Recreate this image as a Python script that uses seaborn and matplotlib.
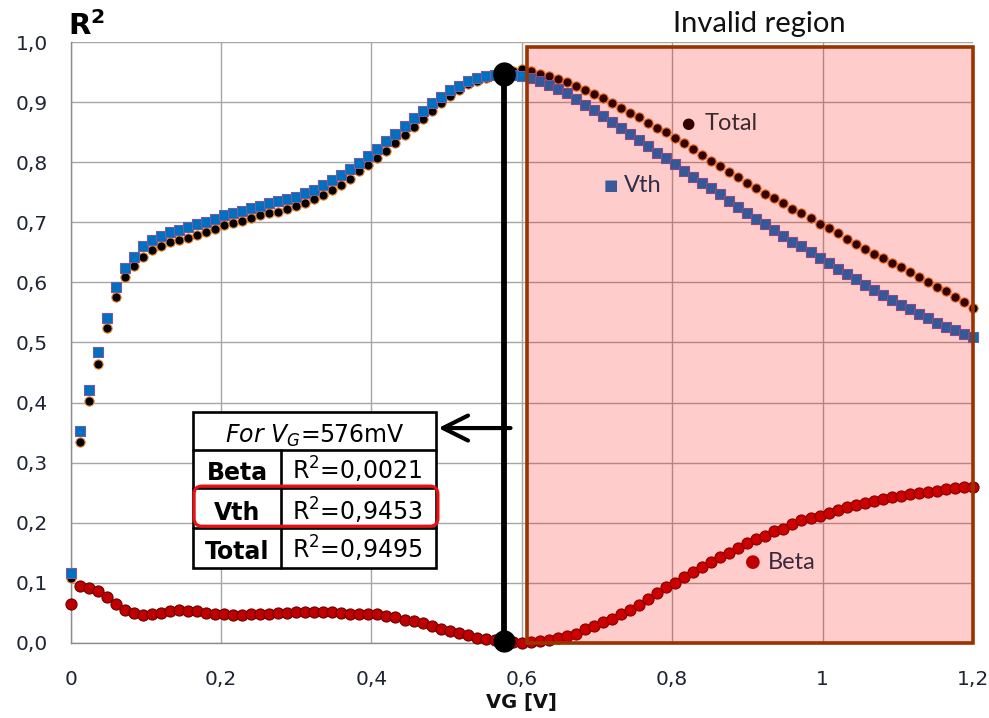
import numpy as np
import pandas as pd
import matplotlib
matplotlib.use("Agg")
import matplotlib.pyplot as plt
import seaborn as sns
from matplotlib.patches import Rectangle, FancyBboxPatch
from matplotlib.ticker import MultipleLocator, FuncFormatter

# ---------------- data ----------------
VG_STEP = 0.012          # gate-voltage step [V], 101 samples from 0 to 1.2 V
N_POINTS = 101

vth = [0.116, 0.353, 0.421, 0.485, 0.541, 0.593, 0.624, 0.643, 0.660, 0.671,
       0.677, 0.684, 0.688, 0.692, 0.697, 0.701, 0.706, 0.712, 0.715, 0.719,
       0.724, 0.728, 0.732, 0.735, 0.739, 0.743, 0.749, 0.754, 0.762, 0.771,
       0.779, 0.789, 0.799, 0.811, 0.822, 0.835, 0.847, 0.861, 0.874, 0.886,
       0.899, 0.909, 0.920, 0.928, 0.936, 0.940, 0.944, 0.946, 0.9453, 0.945,
       0.944, 0.940, 0.935, 0.929, 0.922, 0.915, 0.905, 0.896, 0.888, 0.877,
       0.868, 0.857, 0.847, 0.838, 0.827, 0.816, 0.807, 0.797, 0.786, 0.776,
       0.766, 0.757, 0.747, 0.736, 0.726, 0.716, 0.706, 0.698, 0.688, 0.678,
       0.668, 0.660, 0.650, 0.640, 0.632, 0.623, 0.614, 0.605, 0.596, 0.588,
       0.579, 0.571, 0.563, 0.555, 0.547, 0.540, 0.533, 0.526, 0.520, 0.514,
       0.509]

total = [0.107, 0.335, 0.403, 0.465, 0.524, 0.575, 0.609, 0.627, 0.643, 0.654,
         0.660, 0.667, 0.670, 0.674, 0.679, 0.684, 0.689, 0.695, 0.699, 0.703,
         0.708, 0.712, 0.715, 0.718, 0.722, 0.727, 0.732, 0.739, 0.746, 0.754,
         0.762, 0.773, 0.785, 0.796, 0.807, 0.819, 0.832, 0.845, 0.859, 0.872,
         0.886, 0.899, 0.911, 0.921, 0.930, 0.936, 0.940, 0.945, 0.9495, 0.953,
         0.955, 0.952, 0.948, 0.944, 0.939, 0.934, 0.928, 0.921, 0.914, 0.907,
         0.899, 0.891, 0.883, 0.875, 0.866, 0.858, 0.850, 0.840, 0.832, 0.822,
         0.812, 0.803, 0.794, 0.784, 0.775, 0.766, 0.758, 0.748, 0.740, 0.732,
         0.723, 0.715, 0.707, 0.698, 0.690, 0.682, 0.672, 0.664, 0.656, 0.648,
         0.640, 0.632, 0.625, 0.617, 0.609, 0.601, 0.593, 0.585, 0.576, 0.568,
         0.557]

beta = [0.065, 0.094, 0.0915, 0.086, 0.076, 0.065, 0.054, 0.050, 0.046, 0.0475,
        0.050, 0.052, 0.055, 0.053, 0.052, 0.050, 0.0486, 0.047, 0.046, 0.046,
        0.0486, 0.0486, 0.0486, 0.050, 0.050, 0.051, 0.051, 0.051, 0.051, 0.051,
        0.050, 0.0486, 0.0486, 0.0486, 0.047, 0.0447, 0.042, 0.0386, 0.036, 0.032,
        0.0275, 0.0236, 0.0197, 0.0164, 0.0125, 0.0086, 0.0058, 0.004, 0.0021, 0.001,
        0.000, 0.0014, 0.003, 0.005, 0.007, 0.011, 0.0153, 0.022, 0.0275, 0.0347,
        0.040, 0.0475, 0.055, 0.0636, 0.0736, 0.082, 0.092, 0.100, 0.1086, 0.118,
        0.126, 0.134, 0.142, 0.1486, 0.157, 0.1653, 0.172, 0.1775, 0.186, 0.190,
        0.197, 0.204, 0.207, 0.2114, 0.2164, 0.221, 0.2253, 0.229, 0.233, 0.236,
        0.239, 0.242, 0.245, 0.247, 0.250, 0.2514, 0.253, 0.2553, 0.257, 0.2586,
        0.2597]

vg = np.round(np.arange(N_POINTS) * VG_STEP, 4)

VG_SELECTED = 0.576                      # V
SEL_NAMES = ["Beta", "Vth", "Total"]
SEL_R2 = [0.0021, 0.9453, 0.9495]
INVALID_FROM = 0.607                     # V
INVALID_TOP = 0.9925

df = pd.DataFrame({"VG": vg, "Beta": beta, "Vth": vth, "Total": total})


def comma_x(v, pos=None):
    if abs(v - round(v)) < 1e-9:
        return f"{int(round(v))}"
    return f"{v:.1f}".replace(".", ",")


def comma_y(v, pos=None):
    return f"{v:.1f}".replace(".", ",")


# ---------------- figure ----------------
sns.set_theme(style="white")
plt.rcParams["font.family"] = ["DejaVu Sans"]
plt.rcParams["mathtext.fontset"] = "dejavusans"

W, H = 989, 718
fig = plt.figure(figsize=(W / 100, H / 100), dpi=100)
x0px, x1px, y0px, y1px = 70.7, 972.9, 642.7, 42.3
ax = fig.add_axes([x0px / W, 1 - y0px / H, (x1px - x0px) / W, (y0px - y1px) / H])

sns.scatterplot(data=df, x="VG", y="Total", ax=ax, marker="o", s=44,
                color="black", edgecolor="#E8822A", linewidth=0.8, zorder=3)
sns.scatterplot(data=df, x="VG", y="Vth", ax=ax, marker="s", s=62,
                color="#0070C0", edgecolor="#7A5C9E", linewidth=0.8, zorder=4)
sns.scatterplot(data=df, x="VG", y="Beta", ax=ax, marker="o", s=64,
                color="#C00000", edgecolor="#6B0000", linewidth=0.8, zorder=3)
for c in ax.collections:
    c.set_clip_on(False)

ax.set_xlim(0, 1.2)
ax.set_ylim(0, 1.0)
ax.set_xlabel("")
ax.set_ylabel("")

ax.xaxis.set_major_locator(MultipleLocator(0.2))
ax.xaxis.set_minor_locator(MultipleLocator(0.04))
ax.yaxis.set_major_locator(MultipleLocator(0.1))
ax.yaxis.set_minor_locator(MultipleLocator(0.02))
ax.xaxis.set_major_formatter(FuncFormatter(comma_x))
ax.yaxis.set_major_formatter(FuncFormatter(comma_y))

ax.grid(True, which="major", color="#A6A6A6", linewidth=1.0)
ax.set_axisbelow(True)
for s in ["top", "right"]:
    ax.spines[s].set_visible(False)
for s in ["left", "bottom"]:
    ax.spines[s].set_color("#8C8C8C")
    ax.spines[s].set_linewidth(1.0)

ax.tick_params(which="major", direction="out", length=6.5, width=1.0,
               color="#A6A6A6", labelsize=14.5, labelcolor="#1E2433")
ax.tick_params(axis="y", which="major", pad=10)
ax.tick_params(axis="x", which="major", pad=13)
ax.tick_params(which="minor", direction="in", length=4.5, width=1.0, color="#8C8C8C")

# invalid region
ax.add_patch(Rectangle((INVALID_FROM, 0), 1.2 - INVALID_FROM, INVALID_TOP,
                       facecolor=(1, 0, 0, 0.2), edgecolor="#993300",
                       linewidth=2.6, zorder=5, clip_on=False))
ax.text(0.916, 1.0175, "Invalid region", fontsize=21, family=["Lato", "DejaVu Sans"],
        color="#111111", ha="center", va="baseline", clip_on=False)

# series labels
lab_font = ["Lato", "DejaVu Sans"]
ax.text(0.8206, 0.864, "\u25CF", fontsize=11, color="#330000", ha="center", va="center", zorder=6)
ax.text(0.843, 0.864, "Total", fontsize=17, family=lab_font, color="#3A2A2A", ha="left", va="center", zorder=6)
ax.text(0.718, 0.761, "\u25A0", fontsize=11, color="#3A5A9A", ha="center", va="center", zorder=6)
ax.text(0.7355, 0.761, "Vth", fontsize=17, family=lab_font, color="#2E2E48", ha="left", va="center", zorder=6)
ax.text(0.907, 0.134, "\u25CF", fontsize=13, color="#C00000", ha="center", va="center", zorder=6)
ax.text(0.927, 0.134, "Beta", fontsize=17, family=lab_font, color="#3A2A3A", ha="left", va="center", zorder=6)

# selected VG line
ax.plot([VG_SELECTED] * len(SEL_R2), sorted(SEL_R2), color="black", lw=4.2,
        marker="o", ms=15, zorder=7, clip_on=False)

# arrow to table
ax.annotate("", xy=(0.489, 0.3575), xytext=(0.585, 0.3575),
            arrowprops=dict(arrowstyle="->,head_length=0.9,head_width=0.45",
                            lw=3.0, color="black", mutation_scale=20,
                            shrinkA=0, shrinkB=0), zorder=8)

# table
tx0, tx1, txs = 0.1626, 0.4865, 0.2797
ty = [0.3837, 0.3208, 0.2570, 0.1903, 0.1237]
ax.add_patch(Rectangle((tx0, ty[-1]), tx1 - tx0, ty[0] - ty[-1], facecolor="white",
                       edgecolor="black", linewidth=1.9, zorder=8))
for yy in ty[1:-1]:
    ax.plot([tx0, tx1], [yy, yy], color="black", lw=1.9, zorder=9)
ax.plot([txs, txs], [ty[1], ty[-1]], color="black", lw=1.9, zorder=9)

ax.text((tx0 + tx1) / 2, 0.333, r"$\mathit{For\ V_G}$=576mV", fontsize=17,
        ha="center", va="baseline", color="black", zorder=10)
baselines = [0.271, 0.204, 0.140]
for name, r2, yb in zip(SEL_NAMES, SEL_R2, baselines):
    ax.text((tx0 + txs) / 2, yb, name, fontsize=17, fontweight="bold",
            ha="center", va="baseline", color="black", zorder=10)
    ax.text(0.381, yb, r"R$^2$=" + f"{r2:.4f}".replace(".", ","), fontsize=17,
            ha="center", va="baseline", color="black", zorder=10)

ax.add_patch(FancyBboxPatch((0.1641, 0.194), 0.4884 - 0.1641, 0.2608 - 0.194,
                            boxstyle="round,pad=0,rounding_size=0.0106",
                            mutation_aspect=1.254, facecolor="none",
                            edgecolor="#E81010", linewidth=2.3, zorder=11))

# axis titles
ax.text(-0.003, 1.0125, r"$\mathbf{R^2}$", fontsize=21, color="black",
        ha="left", va="baseline", clip_on=False)
ax.text(0.6, -0.109, "VG [V]", fontsize=14, fontweight="bold", color="#111111",
        ha="center", va="baseline", clip_on=False)

fig.savefig("out.png", dpi=100)
